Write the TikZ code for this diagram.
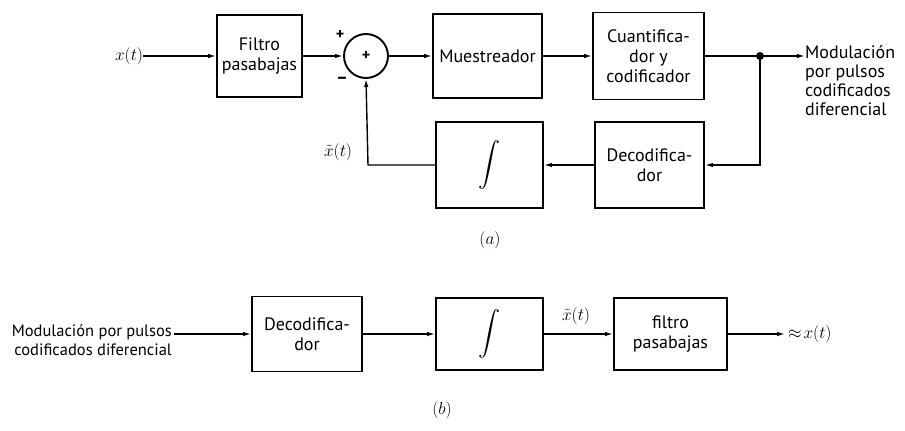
\documentclass[tikz,border=0pt]{standalone}
\usepackage{fontspec}
\setmainfont{PT Sans}
\usetikzlibrary{arrows.meta}
\begin{document}
\begin{tikzpicture}[x=1pt,y=-1pt,
  blk/.style={draw,line width=1.9pt,inner sep=0pt,align=center,
    font=\fontsize{18}{20}\selectfont},
  lbl/.style={font=\fontsize{18}{19}\selectfont,inner sep=0pt},
  mlbl/.style={font=\fontsize{18}{20}\selectfont,inner sep=0pt},
  intg/.style={inner sep=0pt},
  arr/.style={line width=1.4pt,-{Latex[length=8pt,width=4.5pt]}},
  ln/.style={line width=1.4pt}]
\useasboundingbox (0,0) rectangle (905,431);
% ---------- (a) ----------
\node[mlbl] (xt) at (129,56) {$x(t)$};
\node[blk,minimum width=85pt,minimum height=82pt] (filt) at (259.5,56) {Filtro\\pasabajas};
\node[draw,line width=1.9pt,circle,minimum size=44pt,inner sep=0pt,font=\fontsize{16}{16}\selectfont\bfseries] (sum) at (366,56) {+};
\node[lbl,font=\fontsize{16}{16}\selectfont\bfseries] (plus) at (340,35) {+};
\node[lbl,font=\fontsize{18}{18}\selectfont] (minus) at (342,80) {\textbf{--}};
\node[blk,minimum width=109pt,minimum height=84pt] (mues) at (487.5,56) {Muestreador};
\node[blk,minimum width=111pt,minimum height=87pt] (cuan) at (648.5,56) {Cuantifica-\\dor y\\codificador};
\fill (760,56) circle (4pt) coordinate (j);
\node[lbl,align=left,anchor=north west] (outa) at (805,45) {Modulación\\por pulsos\\codificados\\diferencial};
\node[blk,minimum width=107pt,minimum height=86pt] (inta) at (489.5,165) {};
\node[intg] (intsa) at (inta.center) {\scalebox{2.2}{$\displaystyle\int$}};
\node[blk,minimum width=109pt,minimum height=86pt] (deca) at (649.5,165) {Decodifica-\\dor};
\coordinate (fb) at (368,165);
\node[mlbl] (xta) at (338,152) {$\tilde{x}(t)$};
\node[mlbl] (la) at (490,240) {$(a)$};
\draw[arr] (xt.east) -- (filt.west);
\draw[arr] (filt.east) -- (sum.west);
\draw[arr] (sum.east) -- (mues.west);
\draw[arr] (mues.east) -- (cuan.west);
\draw[ln] (cuan.east) -- (j);
\draw[arr] (j) -- (outa.west |- j);
\draw[arr] (j) |- (deca.east);
\draw[arr] (deca.west) -- (inta.east);
\draw[arr] (inta.west) -- (fb) -- (sum.south);
% ---------- (b) ----------
\coordinate (bin) at (174,334);
\node[lbl,font=\fontsize{16.5}{19}\selectfont,align=right,anchor=north east] (inb) at (172,324) {Modulación por pulsos\\codificados diferencial};
\node[blk,minimum width=110pt,minimum height=75pt] (decb) at (307,334) {Decodifica-\\dor};
\node[blk,minimum width=107pt,minimum height=72pt] (intb) at (489.5,334) {};
\node[intg] (intsb) at (intb.center) {\scalebox{2.2}{$\displaystyle\int$}};
\node[blk,minimum width=113pt,minimum height=72pt] (filb) at (670.5,334) {filtro\\pasabajas};
\node[mlbl] (xtb) at (576,316) {$\tilde{x}(t)$};
\coordinate (bout) at (785,334);
\node[mlbl,anchor=west] (approx) at (788,334) {$\approx\! x(t)$};
\node[mlbl] (lb) at (442,410) {$(b)$};
\draw[arr] (bin) -- (decb.west);
\draw[arr] (decb.east) -- (intb.west);
\draw[arr] (intb.east) -- (filb.west);
\draw[arr] (filb.east) -- (bout);
\end{tikzpicture}
\end{document}
